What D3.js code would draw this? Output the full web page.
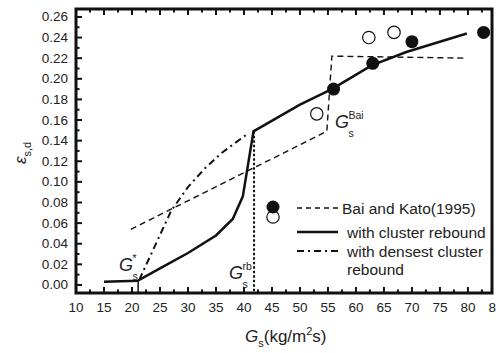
<!DOCTYPE html>
<html>
<head>
<meta charset="utf-8">
<script src="https://cdnjs.cloudflare.com/ajax/libs/d3/7.8.5/d3.min.js"></script>
<style>
  body { margin: 0; background: #fff; }
  svg { font-family: "Liberation Sans", Arial, sans-serif; }
  .tick-label { font-size: 13.5px; fill: #222; }
  .legend { font-size: 15.5px; fill: #222; }
</style>
</head>
<body>
<svg id="chart" width="496" height="353"></svg>
<script>
// tick values
const xTicks = [10, 15, 20, 25, 30, 35, 40, 45, 50, 55, 60, 65, 70, 75, 80, 85];
const yTicks = [0, 0.02, 0.04, 0.06, 0.08, 0.10, 0.12, 0.14, 0.16, 0.18, 0.20, 0.22, 0.24, 0.26];

// with cluster rebound (solid)
const clusterX = [15, 21, 25, 30, 35, 38, 39.8, 41.7, 50, 55.7, 62.8, 69, 79.8];
const clusterY = [0.003, 0.004, 0.016, 0.031, 0.048, 0.064, 0.086, 0.149, 0.175, 0.19, 0.213, 0.226, 0.244];

// Bai and Kato (1995) (dashed)
const baiX = [19.8, 54.8, 55.7, 79.8];
const baiY = [0.054, 0.149, 0.222, 0.220];

// with densest cluster rebound (dash-dot)
const densestX = [21.3, 27, 30, 33, 36, 40.5];
const densestY = [0.005, 0.072, 0.095, 0.113, 0.128, 0.146];

// experiment points
const filledX = [56, 63, 70, 82.8];
const filledY = [0.19, 0.215, 0.236, 0.245];
const openX = [53, 62.3, 66.8];
const openY = [0.166, 0.240, 0.245];

const gStar = 21.1;
const gRb = 41.8;

const svg = d3.select("#chart");
const plotL = 76, plotR = 492, plotT = 9, plotB = 293;

const x = d3.scaleLinear().domain([10, 84.3]).range([plotL, plotR]);
const y = d3.scaleLinear().domain([-0.0078, 0.2677]).range([plotB, plotT]);

const line = d3.line().x(d => x(d[0])).y(d => y(d[1]));
const zip = (a, b) => a.map((v, i) => [v, b[i]]);

// guide lines at G_s* and G_s^rb
svg.append("line")
  .attr("x1", x(gStar)).attr("x2", x(gStar))
  .attr("y1", y(clusterY[1])).attr("y2", plotB)
  .attr("stroke", "#111").attr("stroke-width", 1.5);
svg.append("line")
  .attr("x1", x(gRb)).attr("x2", x(gRb))
  .attr("y1", y(0.149)).attr("y2", plotB)
  .attr("stroke", "#111").attr("stroke-width", 2)
  .attr("stroke-dasharray", "2.5,2");

// curves
svg.append("path").datum(zip(baiX, baiY)).attr("d", line)
  .attr("fill", "none").attr("stroke", "#111").attr("stroke-width", 1.4)
  .attr("stroke-dasharray", "6,4");
svg.append("path").datum(zip(densestX, densestY)).attr("d", line)
  .attr("fill", "none").attr("stroke", "#111").attr("stroke-width", 2)
  .attr("stroke-dasharray", "7,4,2,4");
svg.append("path").datum(zip(clusterX, clusterY)).attr("d", line)
  .attr("fill", "none").attr("stroke", "#111").attr("stroke-width", 2.5);

// points
svg.selectAll(".filled").data(zip(filledX, filledY)).enter().append("circle")
  .attr("cx", d => x(d[0])).attr("cy", d => y(d[1])).attr("r", 6.5)
  .attr("fill", "#111");
svg.selectAll(".open").data(zip(openX, openY)).enter().append("circle")
  .attr("cx", d => x(d[0])).attr("cy", d => y(d[1])).attr("r", 6.2)
  .attr("fill", "#fff").attr("stroke", "#111").attr("stroke-width", 1.2);

// axes with inward ticks
const minorX = d3.range(10, 85, 2.5).filter(v => v <= 84.3);
const minorY = d3.range(0, 0.265, 0.01);
const axisG = svg.append("g");
axisG.selectAll(".xb").data(minorX).enter().append("line")
  .attr("x1", d => x(d)).attr("x2", d => x(d))
  .attr("y1", plotB).attr("y2", (d, i) => plotB - (i % 2 === 0 ? 6 : 3.5))
  .attr("stroke", "#111").attr("stroke-width", 2);
axisG.selectAll(".xt").data(minorX).enter().append("line")
  .attr("x1", d => x(d)).attr("x2", d => x(d))
  .attr("y1", plotT).attr("y2", (d, i) => plotT + (i % 2 === 0 ? 6 : 3.5))
  .attr("stroke", "#111").attr("stroke-width", 2);
axisG.selectAll(".yl").data(minorY).enter().append("line")
  .attr("y1", d => y(d)).attr("y2", d => y(d))
  .attr("x1", plotL).attr("x2", (d, i) => plotL + (i % 2 === 0 ? 6 : 3.5))
  .attr("stroke", "#111").attr("stroke-width", 2);
svg.append("rect")
  .attr("x", plotL).attr("y", plotT)
  .attr("width", plotR - plotL).attr("height", plotB - plotT)
  .attr("fill", "none").attr("stroke", "#111").attr("stroke-width", 3);

svg.selectAll(".xl").data(xTicks).enter().append("text")
  .attr("class", "tick-label")
  .attr("x", d => x(d)).attr("y", 312)
  .attr("text-anchor", "middle").text(d => d);
svg.selectAll(".ylab").data(yTicks).enter().append("text")
  .attr("class", "tick-label")
  .attr("x", 68).attr("y", d => y(d) + 4.5)
  .attr("text-anchor", "end").text(d => d3.format(".2f")(d));

// axis titles
const xt = svg.append("text").attr("x", 245).attr("y", 342)
  .attr("font-size", 17).attr("fill", "#222");
xt.append("tspan").attr("font-style", "italic").text("G");
xt.append("tspan").attr("font-size", 11).attr("dy", 5).text("s");
xt.append("tspan").attr("dy", -5).text("(kg/m");
xt.append("tspan").attr("font-size", 11).attr("dy", -7).text("2");
xt.append("tspan").attr("dy", 7).text("s)");

const yt = svg.append("text")
  .attr("transform", "translate(26,164) rotate(-90)")
  .attr("font-size", 17).attr("fill", "#222");
yt.append("tspan").attr("font-style", "italic").text("ε");
yt.append("tspan").attr("font-size", 11).attr("dy", 5).text("s,d");

// annotations
function gLabel(px, py, sup) {
  svg.append("text").attr("x", px).attr("y", py)
    .attr("font-size", 18).attr("font-style", "italic").attr("fill", "#222").text("G");
  const bx = px + 13.5;
  svg.append("text").attr("x", bx).attr("y", py + 9)
    .attr("font-size", 10.5).attr("fill", "#222").text("s");
  svg.append("text").attr("x", bx).attr("y", py - 9)
    .attr("font-size", 10.5).attr("fill", "#222").text(sup);
}
gLabel(119, 271, "*");
gLabel(335, 128, "Bai");
gLabel(229, 279, "rb");

// legend
svg.append("circle").attr("cx", 273).attr("cy", 217).attr("r", 6.2)
  .attr("fill", "#fff").attr("stroke", "#111").attr("stroke-width", 1.2);
svg.append("circle").attr("cx", 273).attr("cy", 207).attr("r", 6.5)
  .attr("fill", "#111");
const legendRows = [
  { y: 208, dash: "5,4", w: 1.4, label: "Bai and Kato(1995)", tx: 342 },
  { y: 232, dash: null, w: 2.5, label: "with cluster rebound", tx: 347 },
  { y: 251, dash: "7,4,2,4", w: 2, label: "with densest cluster", tx: 347 }
];
legendRows.forEach(r => {
  svg.append("line").attr("x1", 297).attr("x2", 338)
    .attr("y1", r.y).attr("y2", r.y)
    .attr("stroke", "#111").attr("stroke-width", r.w)
    .attr("stroke-dasharray", r.dash);
  svg.append("text").attr("class", "legend")
    .attr("x", r.tx).attr("y", r.y + 5.5).text(r.label);
});
svg.append("text").attr("class", "legend")
  .attr("x", 347).attr("y", 275).text("rebound");
</script>
</body>
</html>
